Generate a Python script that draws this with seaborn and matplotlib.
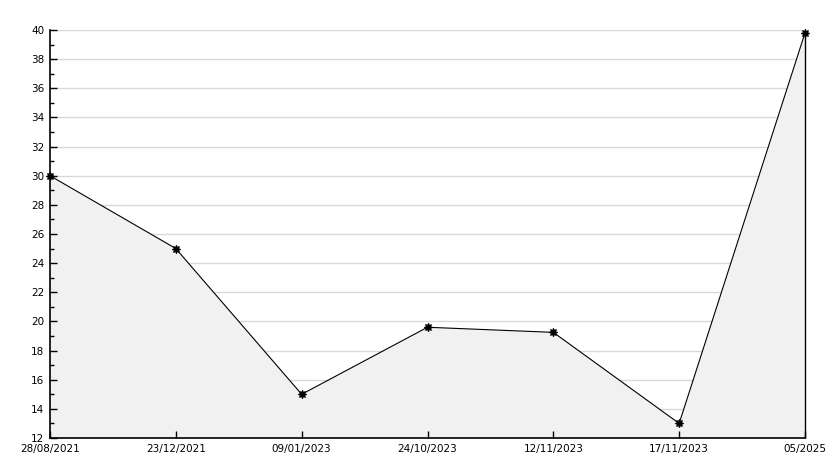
import numpy as np
import pandas as pd
import matplotlib
matplotlib.use("Agg")
import matplotlib.pyplot as plt
from matplotlib.ticker import MultipleLocator
import seaborn as sns

# values
dates = ["28/08/2021", "23/12/2021", "09/01/2023", "24/10/2023",
         "12/11/2023", "17/11/2023", "05/2025"]
values = [30.0, 25.0, 15.0, 19.6, 19.25, 13.0, 39.8]

df = pd.DataFrame({"pos": np.arange(len(dates)), "value": values})

sns.set_style("white")
plt.rcParams['font.family'] = ['DejaVu Sans']

fig = plt.figure(figsize=(8.34, 4.68), dpi=100)
ax = fig.add_axes([50/834, 30/468, 755/834, 408/468])

ymin, ymax = 12, 40
xmax = len(dates) - 1

# grid drawn by hand so the filled area can sit over it while ticks stay on top
ax.hlines(np.arange(ymin, ymax + 1, 2), 0, xmax, color="#d8d8d8", linewidth=1, zorder=0)

ax.fill_between(df["pos"], ymin, df["value"], color="#f1f1f1", zorder=1, linewidth=0)
ax.vlines(df["pos"].iloc[-1], ymin, df["value"].iloc[-1], color="black",
          linewidth=1, zorder=2, clip_on=False)

sns.lineplot(data=df, x="pos", y="value", ax=ax, color="black", linewidth=0.8,
             marker=(8, 1, 0), markersize=6, markeredgecolor="black",
             markerfacecolor="black", zorder=3, clip_on=False)

ax.set_axisbelow(False)
ax.grid(False)
ax.set_xlim(0, xmax)
ax.set_ylim(ymin, ymax)
ax.set_xticks(df["pos"])
ax.set_xticklabels(dates)
ax.yaxis.set_major_locator(MultipleLocator(2))
ax.yaxis.set_minor_locator(MultipleLocator(1))
ax.set_xlabel("")
ax.set_ylabel("")

ax.tick_params(axis="both", which="major", direction="in", length=5, width=1,
               labelsize=7.5, color="black", labelcolor="black", pad=4,
               left=True, bottom=True)
ax.tick_params(axis="y", which="minor", direction="in", length=3, width=1,
               color="black", left=True)
ax.tick_params(axis="x", pad=4)

for side in ["top", "right"]:
    ax.spines[side].set_visible(False)
for side in ["left", "bottom"]:
    ax.spines[side].set_color("black")
    ax.spines[side].set_linewidth(1.2)
    ax.spines[side].set_zorder(4)

fig.savefig("out.png", dpi=100, facecolor="white")
plt.close()
